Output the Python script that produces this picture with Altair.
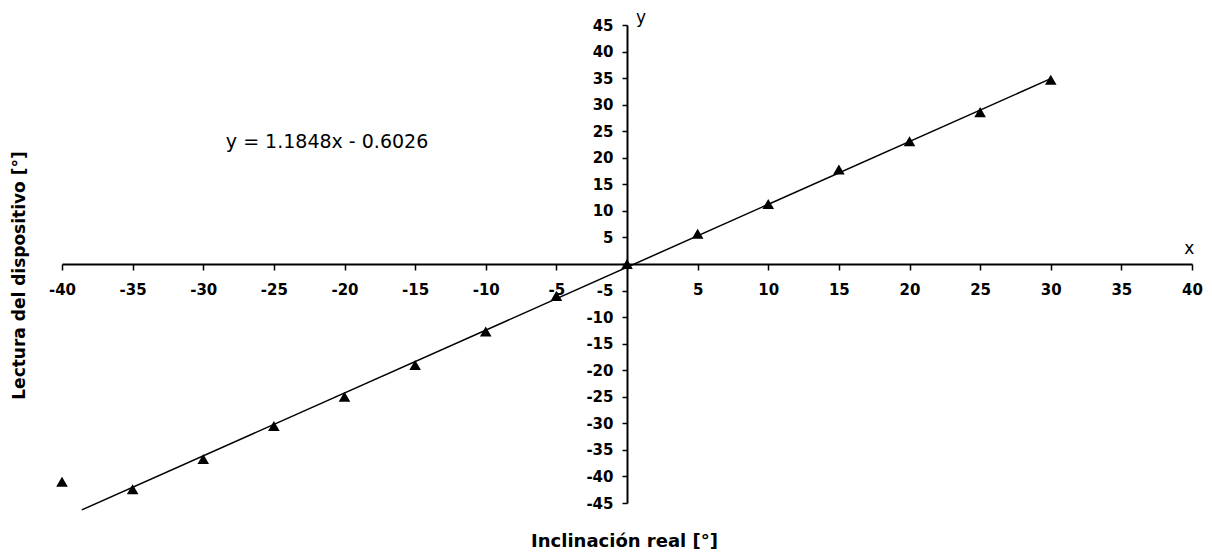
import altair as alt
import pandas as pd

inclinacion_real = [-40, -35, -30, -25, -20, -15, -10, -5, 0, 5, 10, 15, 20, 25, 30]
lectura_dispositivo = [-41.0, -42.4, -36.7, -30.5, -25.0, -19.0, -12.7, -6.0, 0.0,
                       5.7, 11.3, 17.8, 23.1, 28.6, 34.7]

# Linear trendline end points (as drawn)
trend_x = [-38.6, 30.0]
trend_y = [-46.3, 34.9]

x_ticks = list(range(-40, 45, 5))
y_ticks = list(range(-45, 50, 5))

equation_text = ["y = 1.1848x - 0.6026"]
equation_pos_x = [-28.4]
equation_pos_y = [21.8]

axis_names = ["x", "y"]
axis_names_x = [39.8, 1.0]
axis_names_y = [1.9, 45.4]

W, H = 1130, 478
FONT = "DejaVu Sans"

pts = pd.DataFrame({"x": inclinacion_real, "y": lectura_dispositivo})
trend = pd.DataFrame({"x": trend_x, "y": trend_y})
eq = pd.DataFrame({"x": equation_pos_x, "y": equation_pos_y, "t": equation_text})
names = pd.DataFrame({"x": axis_names_x, "y": axis_names_y, "t": axis_names})

xscale = alt.Scale(domain=[-40, 40], nice=False, zero=False)
yscale = alt.Scale(domain=[-45, 45], nice=False, zero=False)

label_expr = ("datum.value == 0 ? '' : (datum.value < 0 ? '-' + abs(datum.value) "
              ": '' + datum.value)")

x_axis = alt.Axis(
    values=x_ticks, offset=-H / 2, grid=False,
    domainColor="black", domainWidth=2, tickColor="black", tickWidth=1.5, tickSize=6,
    labelColor="black", labelFont=FONT, labelFontWeight="bold", labelFontSize=15,
    labelPadding=12, labelFlush=False, labelOverlap=False,
    labelExpr=label_expr,
    title="Inclinación real [°]", titleFont=FONT, titleFontWeight="bold", titleFontSize=18,
    titleColor="black", titleX=562, titleY=282, titleBaseline="alphabetic", titleAlign="center",
)
y_axis = alt.Axis(
    values=y_ticks, offset=-W / 2, grid=False,
    domainColor="black", domainWidth=2, tickColor="black", tickWidth=1.5, tickSize=5,
    labelColor="black", labelFont=FONT, labelFontWeight="bold", labelFontSize=15,
    labelPadding=9, labelFlush=False, labelOverlap=False,
    labelExpr=label_expr,
    title="Lectura del dispositivo [°]", titleFont=FONT, titleFontWeight="bold", titleFontSize=17,
    titleColor="black", titleX=-603, titleY=250, titleAngle=270,
    titleBaseline="alphabetic", titleAlign="center",
)

X = alt.X("x:Q", scale=xscale, axis=x_axis)
Y = alt.Y("y:Q", scale=yscale, axis=y_axis)

line = alt.Chart(trend).mark_line(color="black", strokeWidth=1.5, clip=False).encode(x=X, y=Y)

points = alt.Chart(pts).mark_point(
    shape="triangle-up", filled=True, size=135, color="black", opacity=1, strokeWidth=0
).encode(x=X, y=Y)

eq_text = alt.Chart(eq).mark_text(
    font=FONT, fontSize=19, color="black", align="left", baseline="alphabetic"
).encode(x=X, y=Y, text="t:N")

name_text = alt.Chart(names).mark_text(
    font=FONT, fontSize=17, color="black", align="center", baseline="alphabetic"
).encode(x=X, y=Y, text="t:N")

chart = alt.layer(line, points, eq_text, name_text).properties(
    width=W, height=H,
    padding={"left": 54, "top": 17, "right": 12, "bottom": 48},
    autosize=alt.AutoSizeParams(type="none"),
    background="white",
).configure_view(stroke=None)

chart.save("out.html", embed_options={"renderer": "svg", "actions": False})
